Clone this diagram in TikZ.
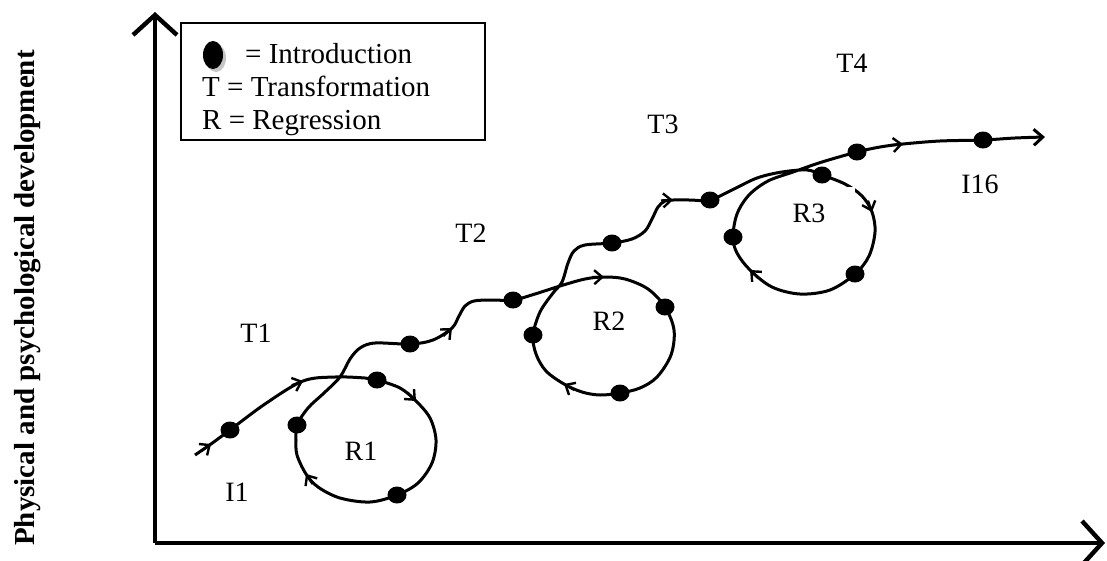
\documentclass[tikz,border=0pt]{standalone}
\usepackage{fontspec}
\setmainfont{Liberation Serif}
\usetikzlibrary{arrows.meta,shapes.geometric}
\begin{document}
\begin{tikzpicture}[x=1pt,y=-1pt,
  axisline/.style={line width=4.4pt, -{Straight Barb[length=20pt,width=44pt]}},
  flow/.style={line width=3pt, line join=round},
  flowtip/.style={line width=2.4pt, -{Straight Barb[length=8pt,width=14pt]}},
  dot/.style={ellipse, fill=black, minimum width=19pt, minimum height=17pt, inner sep=0pt},
  lbl/.style={font=\fontsize{28}{33}\selectfont, inner sep=0pt},
  leg/.style={font=\fontsize{29}{34}\selectfont, anchor=base west, inner sep=0pt}]
\useasboundingbox (0,0) rectangle (1107,560);

% axes
\coordinate (o) at (155,543);
\coordinate (ytop) at (155,12);
\coordinate (xend) at (1105,543);
\draw[axisline] (o) -- (ytop);
\draw[axisline] (o) -- (xend);

% vertical axis label
\node[rotate=90, font=\bfseries\fontsize{29}{34}\selectfont, inner sep=0pt] (ylab) at (28,298) {Physical and psychological development};

% legend
\draw[line width=1.8pt] (181,23) rectangle (485,140);
\fill[gray!45] (216,58) ellipse [x radius=10pt, y radius=14pt];
\fill[black] (213,55) ellipse [x radius=10pt, y radius=14pt];
\node[leg] (legI) at (245,63) {= Introduction};
\node[leg] (legT) at (202,96) {T = Transformation};
\node[leg] (legR) at (202,129) {R = Regression};

% main developmental path
\draw[flow, -{Straight Barb[length=9pt,width=16pt]}] plot[smooth, tension=0.55] coordinates {
 (195,455) (211,444) (230,430) (265,404) (303,381) (335,377) (365,378) (377,380)
 (400,388) (416,401) (430,418) (436,440) (432,463) (418,483) (397,495) (370,502)
 (340,498) (318,487) (306,474) (297,455) (296,440) (297,425) (308,408) (324,393)
 (340,377) (350,359) (360,348) (375,343) (410,344) (433,340) (452,328) (459,316)
 (465,306) (474,301) (490,300) (513,300) (535,294) (560,286) (585,279) (604,277)
 (625,279) (648,289) (665,307) (674,330) (671,355) (657,377) (640,388) (620,393)
 (600,395) (582,392) (564,384) (546,371) (536,354) (533,335) (540,312) (553,293)
 (562,282) (568,263) (574,251) (585,245) (612,243) (632,239) (645,231) (652,219)
 (658,207) (665,201) (673,200) (690,200) (710,200) (732,190) (757,178) (782,172)
 (807,170) (822,175) (845,184) (862,196) (872,212) (875,232) (869,256) (855,274)
 (830,290) (800,294) (772,287) (750,270) (737,253) (733,237) (737,214) (749,195)
 (768,181) (793,172) (822,162) (857,152) (880,147) (903,144) (940,141) (983,140)
 (1015,138) (1045,137)};

% direction marks
\draw[flowtip] (201.2,451.0) -- (211,444);
\draw[flowtip] (291.8,385.3) -- (303,381);
\draw[flowtip] (407.5,392.5) -- (416,401);
\draw[flowtip] (312.6,484.0) -- (306,474);
\draw[flowtip] (443.2,336.1) -- (452,328);
\draw[flowtip] (592,277.2) -- (604,277);
\draw[flowtip] (574.4,390.0) -- (564,384);
\draw[flowtip] (661,200.5) -- (673,200);
\draw[flowtip] (867.9,200.7) -- (872,212);
\draw[flowtip] (758.6,278.4) -- (750,270);
\draw[flowtip] (891,145.2) -- (903,144);

% labels
\node[lbl] (t1) at (256,333) {T1};
\node[lbl] (t2) at (471,233) {T2};
\node[lbl] (t3) at (663,124) {T3};
\node[lbl] (t4) at (852,63) {T4};
\node[lbl] (i1) at (237,492) {I1};
\node[lbl] (i16) at (980,184) {I16};
\node[lbl] (r1) at (361,451) {R1};
\node[lbl] (r2) at (609,321) {R2};
\node[lbl, fill=white, minimum width=92pt, minimum height=52pt] (r3) at (809,213) {R3};

% introduction points
\node[dot] (d1) at (230,430) {};
\node[dot] (d2) at (377,380) {};
\node[dot] (d3) at (397,495) {};
\node[dot] (d4) at (297,425) {};
\node[dot] (d5) at (410,344) {};
\node[dot] (d6) at (513,300) {};
\node[dot] (d7) at (665,307) {};
\node[dot] (d8) at (620,393) {};
\node[dot] (d9) at (533,335) {};
\node[dot] (d10) at (612,243) {};
\node[dot] (d11) at (710,200) {};
\node[dot] (d12) at (822,175) {};
\node[dot] (d13) at (855,274) {};
\node[dot] (d14) at (733,237) {};
\node[dot] (d15) at (857,152) {};
\node[dot] (d16) at (983,140) {};
\end{tikzpicture}
\end{document}
